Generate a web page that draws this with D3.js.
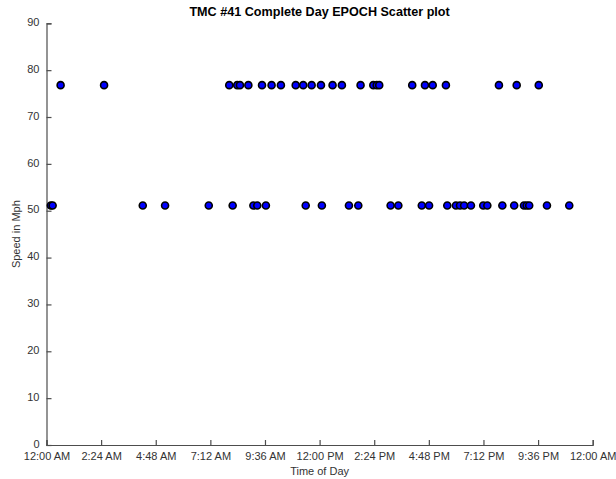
<!DOCTYPE html>
<html>
<head>
<meta charset="utf-8">
<script src="https://cdn.jsdelivr.net/npm/d3@7/dist/d3.min.js"></script>
<style>
  html, body { margin: 0; padding: 0; background: #fff; }
  svg { display: block; font-family: "Liberation Sans", Arial, Helvetica, sans-serif; }
</style>
</head>
<body>
<svg id="chart" width="616" height="479"></svg>
<script>
// Observations of one TMC segment over a full day: hour of day (decimal) and speed (mph)
const highHours = [0.62, 2.53, 8.03, 8.38, 8.50, 8.87, 9.47, 9.89, 10.30, 10.95, 11.28, 11.65,
  12.06, 12.57, 12.98, 13.80, 14.36, 14.51, 14.62, 16.07, 16.63, 16.97, 17.55, 19.88, 20.66, 21.63];
const highSpeed = 76.8;

const lowHours = [0.19, 0.27, 4.23, 5.21, 7.13, 8.18, 9.09, 9.26, 9.64, 11.39, 12.10, 13.29, 13.70,
  15.12, 15.46, 16.49, 16.81, 17.61, 17.99, 18.17, 18.35, 18.65, 19.19, 19.37, 20.03, 20.55,
  20.98, 21.10, 21.21, 21.99, 22.97];
const lowSpeed = 51.1;

// Tick positions (hours) and their clock labels
const xTickHours = [0, 2.4, 4.8, 7.2, 9.6, 12, 14.4, 16.8, 19.2, 21.6, 24];
const xTickLabels = ["12:00 AM", "2:24 AM", "4:48 AM", "7:12 AM", "9:36 AM", "12:00 PM",
  "2:24 PM", "4:48 PM", "7:12 PM", "9:36 PM", "12:00 AM"];
const yTicks = [0, 10, 20, 30, 40, 50, 60, 70, 80, 90];

const points = highHours.map(h => ({ hour: h, speed: highSpeed }))
  .concat(lowHours.map(h => ({ hour: h, speed: lowSpeed })))
  .sort((a, b) => a.hour - b.hour);

const svg = d3.select("#chart");
const margin = { left: 46.5, right: 616 - 592.7, top: 23.3, bottom: 479 - 445 };
const plotW = 616 - margin.left - margin.right;
const plotH = 479 - margin.top - margin.bottom;

const x = d3.scaleLinear().domain([0, 24]).range([0, plotW]);
const y = d3.scaleLinear().domain([0, 90]).range([plotH, 0]);

const g = svg.append("g").attr("transform", `translate(${margin.left},${margin.top})`);

const axisColor = "#4d4d4d";
const textColor = "#333";

// Bottom axis with inward ticks
const xAxis = d3.axisBottom(x)
  .tickValues(xTickHours)
  .tickFormat((d, i) => xTickLabels[i])
  .tickSizeInner(-5)
  .tickSizeOuter(-5)
  .tickPadding(7);

const gx = g.append("g").attr("transform", `translate(0,${plotH})`).call(xAxis);

// Left axis with inward ticks
const yAxis = d3.axisLeft(y)
  .tickValues(yTicks)
  .tickSizeInner(-5)
  .tickSizeOuter(-5)
  .tickPadding(7);

const gy = g.append("g").call(yAxis);
gy.selectAll(".tick text").attr("dy", "0.2em");

[gx, gy].forEach(a => {
  a.select(".domain").attr("stroke", axisColor).attr("stroke-width", 1.2);
  a.selectAll(".tick line").attr("stroke", axisColor).attr("stroke-width", 1.2);
  a.selectAll(".tick text")
    .attr("fill", textColor)
    .style("font-size", "11px")
    .style("font-family", "'Liberation Sans', Arial, sans-serif");
});

// Scatter points
g.append("g")
  .selectAll("circle")
  .data(points)
  .join("circle")
  .attr("cx", d => x(d.hour))
  .attr("cy", d => y(d.speed))
  .attr("r", 3.5)
  .attr("fill", "#0000ff")
  .attr("stroke", "#000")
  .attr("stroke-width", 1.6);

// Title and axis labels
svg.append("text")
  .attr("x", margin.left + plotW / 2)
  .attr("y", 16)
  .attr("text-anchor", "middle")
  .attr("font-weight", "bold")
  .attr("font-size", "12.6px")
  .attr("fill", "#000")
  .text("TMC #41 Complete Day EPOCH Scatter plot");

svg.append("text")
  .attr("x", margin.left + plotW / 2)
  .attr("y", 475)
  .attr("text-anchor", "middle")
  .attr("font-size", "11px")
  .attr("fill", textColor)
  .text("Time of Day");

svg.append("text")
  .attr("transform", `translate(20,${margin.top + plotH / 2}) rotate(-90)`)
  .attr("text-anchor", "middle")
  .attr("font-size", "11px")
  .attr("fill", textColor)
  .text("Speed in Mph");
</script>
</body>
</html>
